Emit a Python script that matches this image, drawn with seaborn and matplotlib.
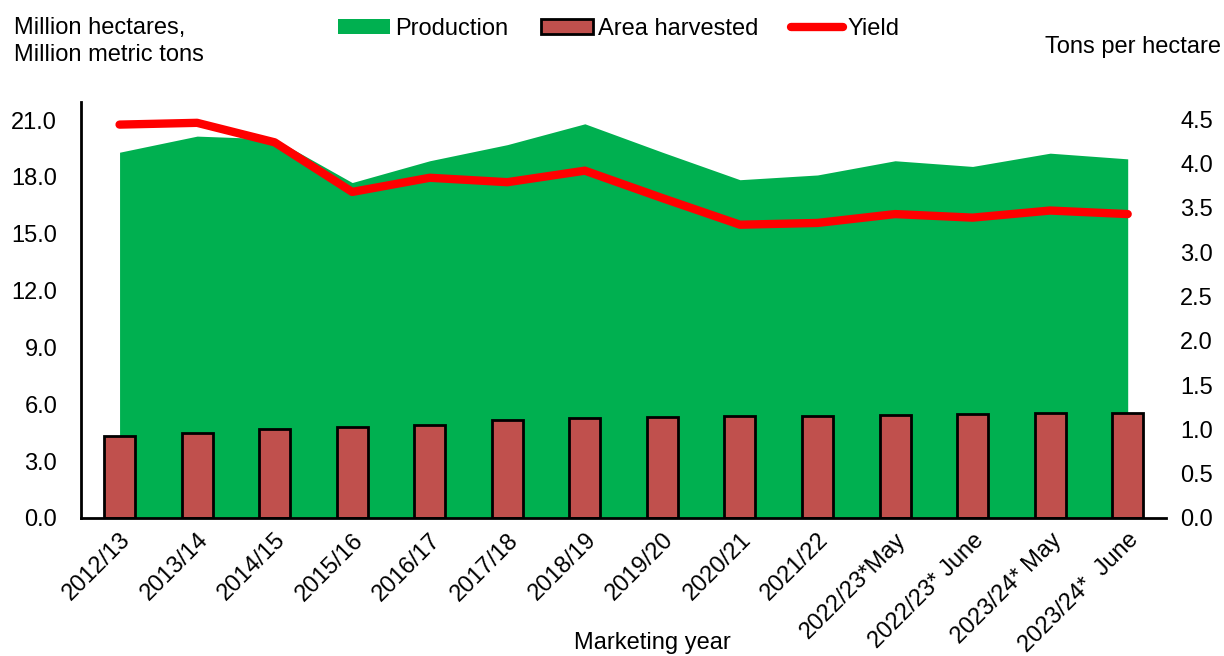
import numpy as np
import pandas as pd
import matplotlib
matplotlib.use("Agg")
import matplotlib.pyplot as plt
import seaborn as sns
from matplotlib.patches import Patch
from matplotlib.lines import Line2D

years = ["2012/13", "2013/14", "2014/15", "2015/16", "2016/17", "2017/18", "2018/19",
         "2019/20", "2020/21", "2021/22", "2022/23*May", "2022/23* June",
         "2023/24* May", "2023/24*  June"]
production = [19.3, 20.15, 20.0, 17.7, 18.85, 19.7, 20.8, 19.3, 17.85, 18.1, 18.85, 18.55, 19.25, 18.95]
area_harvested = [4.33, 4.51, 4.67, 4.79, 4.88, 5.16, 5.28, 5.35, 5.37, 5.40, 5.46, 5.48, 5.53, 5.53]
yield_tph = [4.44, 4.46, 4.24, 3.68, 3.84, 3.79, 3.92, 3.61, 3.31, 3.33, 3.43, 3.39, 3.47, 3.43]

left_ticks = [0, 3, 6, 9, 12, 15, 18, 21]
right_ticks = [0, 0.5, 1.0, 1.5, 2.0, 2.5, 3.0, 3.5, 4.0, 4.5]

GREEN = "#00B050"
BAR = "#C0504D"
RED = "#FF0000"
FS = 17

sns.set_theme(style="white")
plt.rcParams["font.family"] = ["Liberation Sans", "DejaVu Sans"]
plt.rcParams["text.color"] = "black"
plt.rcParams["axes.labelcolor"] = "black"
plt.rcParams["xtick.color"] = "black"
plt.rcParams["ytick.color"] = "black"

df = pd.DataFrame({"year": years, "production": production,
                   "area": area_harvested, "yield": yield_tph, "pos": np.arange(len(years))})

fig = plt.figure(figsize=(12.24, 6.56), dpi=100)
ax = fig.add_axes([0.066, 0.2104, 0.887, 0.6341])

ax.fill_between(df["pos"], 0, df["production"], color=GREEN, linewidth=0, zorder=1)
sns.barplot(data=df, x="year", y="area", color=BAR, edgecolor="black", linewidth=2,
            width=0.4, saturation=1, ax=ax, zorder=2)

ax.set_xlim(-0.5, 13.5)
ax.set_ylim(0, 21.95)
ax.set_yticks(left_ticks)
ax.set_yticklabels([f"{t:.1f}" for t in left_ticks], fontsize=FS)
ax.set_xticks(df["pos"])
ax.set_xticklabels(years, rotation=45, ha="right", rotation_mode="anchor", fontsize=FS)
ax.tick_params(axis="both", length=0, colors="black")
ax.tick_params(axis="y", pad=17)
ax.tick_params(axis="x", pad=8)
ax.set_xlabel("")
ax.set_ylabel("")
for s in ["top", "right"]:
    ax.spines[s].set_visible(False)
for s in ["left", "bottom"]:
    ax.spines[s].set_color("black")
    ax.spines[s].set_linewidth(2)

ax2 = ax.twinx()
sns.lineplot(data=df, x="pos", y="yield", color=RED, linewidth=6, ax=ax2,
             solid_capstyle="round", solid_joinstyle="round", zorder=3)
ax2.set_ylim(0, 4.695)
ax2.set_yticks(right_ticks)
ax2.set_yticklabels([f"{t:.1f}" for t in right_ticks], fontsize=FS)
ax2.tick_params(axis="y", length=0, pad=10, colors="black")
ax2.set_ylabel("")
ax2.set_xlabel("")
for s in ["top", "right", "left", "bottom"]:
    ax2.spines[s].set_visible(False)
ax2.set_xlim(-0.5, 13.5)

fig.text(14/1224, 1 - 17/656, "Million hectares,\nMillion metric tons", fontsize=FS,
         ha="left", va="top", linespacing=1.28, color="black")
fig.text(1221/1224, 1 - 47/656, "Tons per hectare", fontsize=FS, ha="right", va="center",
         color="black")
fig.text(652/1224, 1 - 643/656, "Marketing year", fontsize=FS, ha="center", va="center",
         color="black")

handles = [Patch(facecolor=GREEN, edgecolor="none"),
           Patch(facecolor=BAR, edgecolor="black", linewidth=2),
           Line2D([0], [0], color=RED, linewidth=6, solid_capstyle="round")]
leg = fig.legend(handles, ["Production", "Area harvested", "Yield"], loc="center left",
                 bbox_to_anchor=(338/1224, 1 - 29/656), ncol=3, frameon=False, fontsize=FS,
                 handlelength=2.2, handleheight=0.6, handletextpad=0.2, columnspacing=1.4,
                 borderpad=0, borderaxespad=0, labelcolor="black")

fig.savefig("out.png", dpi=100)
